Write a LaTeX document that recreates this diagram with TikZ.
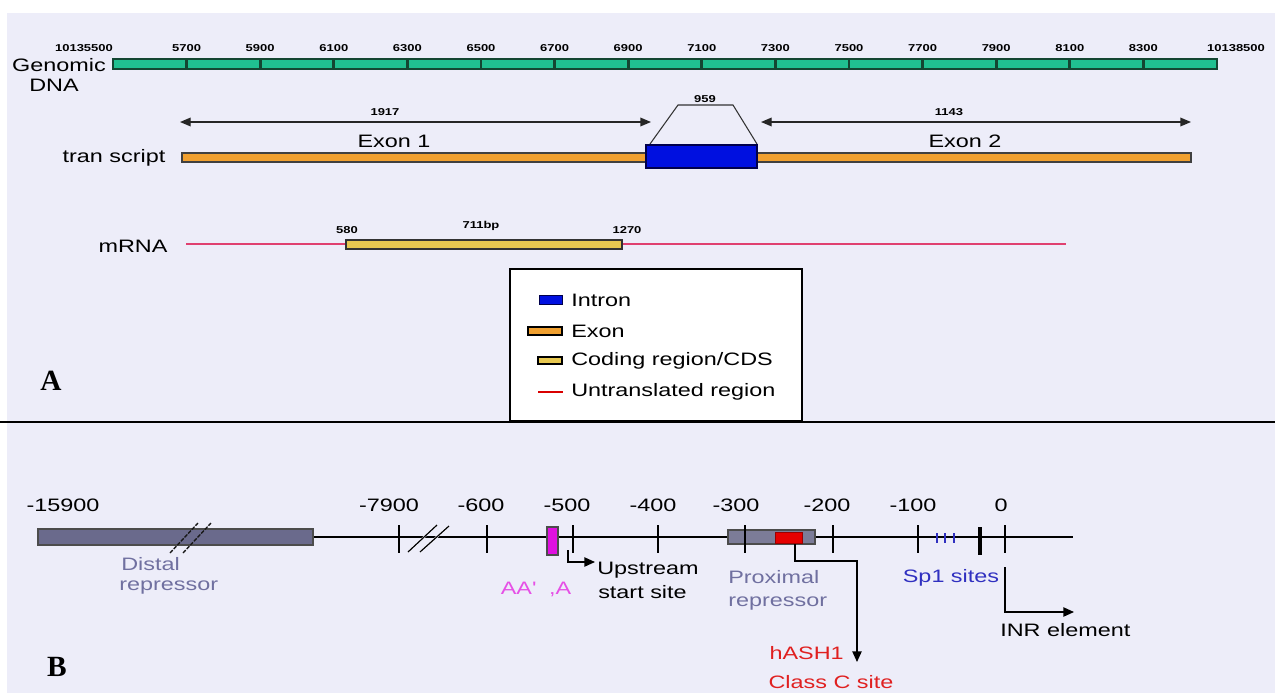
\documentclass[tikz,border=0pt]{standalone}
\usepackage{fontspec}
\setmainfont{Liberation Sans}
\newfontfamily\wf[FakeStretch=1.3]{Liberation Sans}
\newfontfamily\serifbold{Liberation Serif Bold}
\usetikzlibrary{arrows.meta}
\definecolor{bglav}{RGB}{237,237,249}
\definecolor{dnagreen}{RGB}{32,192,144}
\definecolor{dnaedge}{RGB}{20,70,50}
\definecolor{exonor}{RGB}{240,160,48}
\definecolor{intronbl}{RGB}{0,16,224}
\definecolor{cdsyel}{RGB}{232,200,80}
\definecolor{utrred}{RGB}{224,64,112}
\definecolor{slatebox}{RGB}{106,106,140}
\definecolor{slatetxt}{RGB}{112,112,160}
\definecolor{proxgray}{RGB}{124,124,152}
\definecolor{magbox}{RGB}{224,16,224}
\definecolor{magtxt}{RGB}{230,80,230}
\definecolor{spblue}{RGB}{48,48,192}
\definecolor{hashred}{RGB}{224,32,32}
\tikzset{
  lbl/.style={font=\wf\fontsize{13.5}{15}\selectfont, inner sep=0pt},
  tinylbl/.style={font=\wf\bfseries\fontsize{7.5}{8}\selectfont, inner sep=0pt},
  panel/.style={font=\serifbold\fontsize{22}{24}\selectfont, inner sep=0pt},
  dimarrow/.style={{Triangle[length=8pt,width=6.5pt]}-{Triangle[length=8pt,width=6.5pt]}, line width=1pt, black!85},
  bentarrow/.style={-{Triangle[length=8pt,width=7pt]}, line width=1pt, black},
  tickmark/.style={line width=1.1pt, black},
  dnatick/.style={line width=2pt, dnaedge},
  slashmark/.style={line width=1pt, black!90, dash pattern=on 3pt off 1pt},
  slashhalo/.style={line width=1.6pt, bglav!50!white},
}
\begin{document}
\begin{tikzpicture}[x=0.75pt,y=-0.75pt]
\useasboundingbox (0,0) rectangle (1275,693);
\fill[white] (0,0) rectangle (1275,693);
\fill[bglav] (7,13) rectangle (1275,693);

% ---------------- Panel A ----------------
% genomic DNA bar
\draw[fill=dnagreen, draw=dnaedge, line width=1pt] (113,59) rectangle (1217,69);
\foreach \i in {1,...,14} {
  \draw[dnatick] ({113+73.6*\i},59) -- ({113+73.6*\i},69);
}
\foreach \lab [count=\i] in {5700,5900,6100,6300,6500,6700,6900,7100,7300,7500,7700,7900,8100,8300} {
  \node[tinylbl] at ({113+73.6*\i},48) {\lab};
}
\node[tinylbl] (gstart) at (84,48) {10135500};
\node[tinylbl] (gend) at (1236,48) {10138500};
\node[lbl] (gtxt) at (59,65) {Genomic};
\node[lbl] (dtxt) at (54,85) {DNA};

% transcript
\coordinate (e1l) at (180,122);
\coordinate (e1r) at (651,122);
\coordinate (e2l) at (761,122);
\coordinate (e2r) at (1191,122);
\draw[dimarrow] (e1l) -- (e1r);
\draw[dimarrow] (e2l) -- (e2r);
\node[tinylbl] (len1) at (385,112) {1917};
\node[tinylbl] (len2) at (949,112) {1143};
\node[lbl] (ex1) at (394,141) {Exon 1};
\node[lbl] (ex2) at (965,141) {Exon 2};
\draw[fill=exonor, draw=black!75, line width=1pt] (182,153) rectangle (1191,162);
\coordinate (il) at (650,144);
\coordinate (ir) at (757,144);
\draw[line width=0.8pt, black!80] (il) -- (678,105) -- (733,105) -- (ir);
\node[tinylbl, fill=bglav, inner xsep=1pt, inner ysep=0.5pt] (ilen) at (705,99) {959};
\draw[fill=intronbl, draw=blue!30!black, line width=1pt] (646,145) rectangle (757,168);
\node[lbl] (ttxt) at (114,158) {tran script};

% mRNA
\draw[utrred, line width=1.5pt] (186,244) -- (1066,244);
\draw[fill=cdsyel, draw=black!80, line width=1pt] (346,240) rectangle (622,249);
\node[tinylbl] (p580) at (347,230) {580};
\node[tinylbl] (plen) at (481,226) {711bp};
\node[tinylbl] (p1270) at (627,230) {1270};
\node[lbl] (mtxt) at (133,246) {mRNA};

% legend
\draw[fill=white, draw=black, line width=1.2pt] (510,269) rectangle (802,421);
\draw[fill=intronbl, draw=blue!30!black, line width=0.6pt] (539,295) rectangle (562,304);
\node[lbl, anchor=west] (lg1) at (571,300) {Intron};
\draw[fill=exonor, draw=black, line width=0.8pt] (528,327) rectangle (562,335);
\node[lbl, anchor=west] (lg2) at (571,331) {Exon};
\draw[fill=cdsyel, draw=black, line width=0.8pt] (538,357) rectangle (562,364);
\node[lbl, anchor=west] (lg3) at (571,361) {Coding region/CDS};
\draw[red!85!black, line width=1pt] (538,392) -- (563,392);
\node[lbl, anchor=west] (lg4) at (571,392) {Untranslated region};

\node[panel] (pa) at (51,381) {A};

% divider
\draw[line width=1.5pt] (0,422) -- (1275,422);

% ---------------- Panel B ----------------
\draw[line width=1pt] (38,537) -- (1073,537);
\draw[fill=slatebox, draw=black!70, line width=1pt] (38,529) rectangle (313,545);
% break marks on distal box
\draw[slashmark] (170,553) -- (198,523);
\draw[slashmark] (183,553) -- (211,523);
% ticks
\foreach \x in {399,487,573,658,745,833,918,1005} {
  \draw[tickmark] (\x,525) -- (\x,553);
}
\draw[line width=3pt] (980,527) -- (980,555);
% break marks near -7900
\draw[slashhalo] (408,552) -- (437,525);
\draw[slashhalo] (420,552) -- (449,526);
\draw[line width=0.9pt] (408,552) -- (437,525);
\draw[line width=0.9pt] (420,552) -- (449,526);
% AATAAA box
\draw[fill=magbox, draw=black!70, line width=0.8pt] (547,527) rectangle (558,555);
% proximal repressor
\draw[fill=proxgray, draw=black!70, line width=0.8pt] (728,530) rectangle (815,544);
\draw[fill=red!90!black, draw=red!60!black, line width=0.6pt] (775,532) rectangle (802,543);
\draw[tickmark] (745,525) -- (745,553);
% Sp1 sites
\foreach \x in {937,945,954} {
  \draw[spblue, line width=1pt] (\x,533) -- (\x,543);
}
% position labels
\node[lbl] (n15900) at (63,505) {-15900};
\node[lbl] (n7900) at (389,505) {-7900};
\node[lbl] (n600) at (481,505) {-600};
\node[lbl] (n500) at (567,505) {-500};
\node[lbl] (n400) at (653,505) {-400};
\node[lbl] (n300) at (736,505) {-300};
\node[lbl] (n200) at (827,505) {-200};
\node[lbl] (n100) at (913,505) {-100};
\node[lbl] (n0) at (1001,505) {0};

% feature labels
\node[lbl, anchor=west, text=slatetxt] (dist1) at (121,564) {Distal};
\node[lbl, anchor=west, text=slatetxt] (dist2) at (119,588) {repressor};
\node[lbl, text=magtxt] (aat) at (536,589) {AA'\, \,,A};
\coordinate (usa) at (568,550);
\coordinate (usb) at (595,562);
\draw[bentarrow] (usa) |- (usb);
\node[lbl, anchor=west] (us1) at (597,570) {Upstream};
\node[lbl, anchor=west] (us2) at (598,592) {start site};
\node[lbl, anchor=west, text=slatetxt] (prox1) at (728,577) {Proximal};
\node[lbl, anchor=west, text=slatetxt] (prox2) at (728,604) {repressor};
\coordinate (ha) at (795,544);
\coordinate (hb) at (857,561);
\coordinate (hc) at (857,662);
\draw[bentarrow] (ha) |- (hb) -- (hc);
\node[lbl, anchor=east, text=hashred] (hash1) at (844,653) {hASH1};
\node[lbl, text=hashred] (hash2) at (831,682) {Class C site};
\node[lbl, text=spblue] (sp1) at (951,578) {Sp1 sites};
\coordinate (ia) at (1005,567);
\coordinate (ib) at (1074,612);
\draw[bentarrow] (ia) |- (ib);
\node[lbl, anchor=west] (inr) at (1000,630) {INR element};

\node[panel] (pb) at (57,667) {B};
\end{tikzpicture}
\end{document}
